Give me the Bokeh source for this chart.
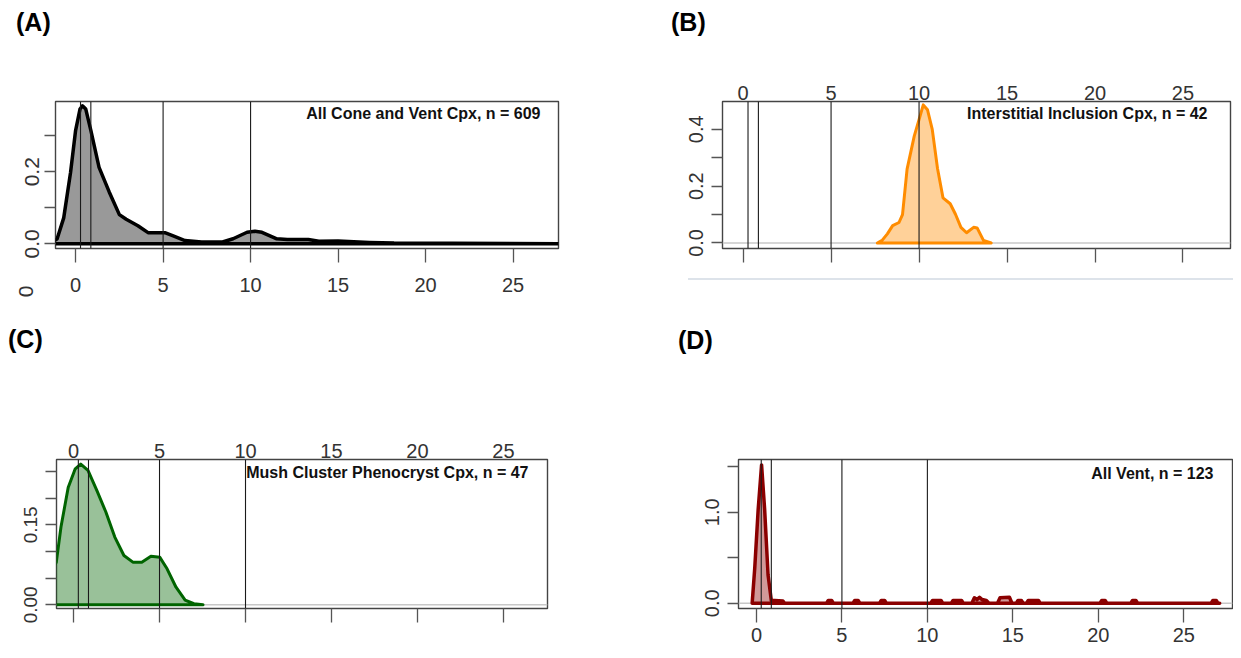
import math
from bokeh.plotting import figure
from bokeh.models import Range1d, LinearAxis, FixedTicker, Span, Label, Div
from bokeh.layouts import row, column
from bokeh.embed import file_html
from bokeh.resources import INLINE

# ---------------- data ----------------
x_ticks = [0, 5, 10, 15, 20, 25]
ref_lines = [0.28, 0.87, 5, 10]

# (A) All Cone and Vent Cpx
a_title = "All Cone and Vent Cpx, n = 609"
a_x = [-1.6, -1.06, -0.68, -0.29, 0.0, 0.25, 0.39, 0.58, 0.87, 1.34, 1.92, 2.5, 2.89,
       3.56, 4.14, 5.1, 5.58, 6.25, 7.2, 8.4, 9.0, 9.8, 10.25, 10.65, 11.5, 12.1, 13.3,
       13.9, 15.0, 16.8, 18.2, 30.0]
a_y = [0.0, 0.0135, 0.072, 0.198, 0.315, 0.374, 0.383, 0.374, 0.315, 0.212, 0.144,
       0.081, 0.068, 0.050, 0.031, 0.031, 0.022, 0.009, 0.005, 0.005, 0.014, 0.032,
       0.035, 0.032, 0.014, 0.012, 0.012, 0.007, 0.008, 0.004, 0.002, 0.0]
a_yticks = [0, 0.1, 0.2, 0.3]
a_ylabels = ["0.0", "", "0.2", ""]

# (B) Interstitial Inclusion Cpx
b_title = "Interstitial Inclusion Cpx, n = 42"
b_x = [7.63, 7.9, 8.2, 8.5, 8.86, 9.06, 9.32, 9.73, 10.0, 10.24, 10.48, 10.75, 11.05,
       11.36, 11.77, 12.07, 12.38, 12.7, 13.1, 13.3, 13.66, 14.1]
b_y = [0.0, 0.009, 0.032, 0.061, 0.072, 0.10, 0.26, 0.377, 0.434, 0.486, 0.469, 0.40,
       0.262, 0.159, 0.138, 0.101, 0.055, 0.036, 0.055, 0.053, 0.009, 0.0]
b_yticks = [0, 0.1, 0.2, 0.3, 0.4]
b_ylabels = ["0.0", "", "0.2", "", "0.4"]

# (C) Mush Cluster Phenocryst Cpx
c_title = "Mush Cluster Phenocryst Cpx, n = 47"
c_x = [-2.4, -1.0, -0.73, -0.31, 0.1, 0.42, 0.84, 1.36, 1.88, 2.4, 2.93, 3.45, 3.97,
       4.5, 5.02, 5.44, 5.96, 6.49, 7.0, 7.53]
c_y = [0.0, 0.08, 0.146, 0.22, 0.255, 0.264, 0.252, 0.214, 0.174, 0.127, 0.0925, 0.08,
       0.08, 0.091, 0.089, 0.0675, 0.033, 0.009, 0.002, 0.0]
c_yticks = [0, 0.05, 0.10, 0.15, 0.20, 0.25]
c_ylabels = ["0.00", "", "", "0.15", "", ""]

# (D) All Vent
d_title = "All Vent, n = 123"
d_x = [-0.25, -0.1, 0.1, 0.3, 0.48, 0.68, 0.87, 1.07, 1.55, 1.65,
       4.1, 4.2, 4.4, 4.5,
       5.65, 5.75, 5.95, 6.05,
       7.2, 7.3, 7.5, 7.6,
       10.2, 10.3, 10.8, 10.9,
       11.4, 11.5, 12.0, 12.1,
       12.6, 12.75, 12.9, 13.05, 13.2, 13.45, 13.6,
       14.1, 14.25, 14.8, 14.95,
       15.2, 15.3, 15.5, 15.6,
       15.8, 15.9, 16.5, 16.6,
       20.1, 20.2, 20.4, 20.5,
       21.9, 22.0, 22.2, 22.3,
       26.6, 26.7, 26.9, 27.0, 27.1]
d_y = [0.0, 0.385, 1.03, 1.52, 1.03, 0.31, 0.03, 0.03, 0.025, 0.0,
       0.0, 0.03, 0.03, 0.0,
       0.0, 0.03, 0.03, 0.0,
       0.0, 0.03, 0.03, 0.0,
       0.0, 0.03, 0.03, 0.0,
       0.0, 0.03, 0.03, 0.0,
       0.0, 0.06, 0.04, 0.065, 0.04, 0.03, 0.0,
       0.0, 0.06, 0.065, 0.0,
       0.0, 0.03, 0.03, 0.0,
       0.0, 0.03, 0.03, 0.0,
       0.0, 0.03, 0.03, 0.0,
       0.0, 0.03, 0.03, 0.0,
       0.0, 0.03, 0.03, 0.0, 0.0]
d_yticks = [0, 0.5, 1.0, 1.5]
d_ylabels = ["0.0", "", "1.0", ""]

# ---------------- style ----------------
SANS = "'Liberation Sans', Arial, sans-serif"
TICK_COL = "#555555"
LAB_COL = "#333333"


def style_axis(ax, ticks, labels=None, tick_out=14, standoff=10, size="20px",
               show_labels=True, show_ticks=True, vertical=False):
    ax.ticker = FixedTicker(ticks=ticks)
    ax.axis_line_color = None
    ax.minor_tick_line_color = None
    ax.major_tick_in = 0
    ax.major_tick_out = tick_out if show_ticks else 0
    ax.major_tick_line_color = TICK_COL if show_ticks else None
    ax.major_tick_line_width = 1.3
    ax.major_label_standoff = standoff
    ax.major_label_text_font = SANS
    ax.major_label_text_font_size = size
    ax.major_label_text_color = LAB_COL if show_labels else None
    if labels is not None:
        ax.major_label_overrides = {t: l for t, l in zip(ticks, labels)}
    if vertical:
        ax.major_label_orientation = "vertical"


def panel(w, h, bl, br, bt, bb, xr, yr, xs, ys, color, title, title_pos,
          yticks, ylabels, top_labels, bottom_labels, ysize, ystand, xstand,
          line_w=3.0):
    p = figure(width=w, height=h, x_range=Range1d(*xr), y_range=Range1d(*yr),
               output_backend="svg", toolbar_location=None,
               min_border_left=bl, min_border_right=br, min_border_top=bt,
               min_border_bottom=bb, x_axis_location=None, y_axis_location=None)
    p.grid.visible = False
    p.outline_line_color = "#444444"
    p.outline_line_width = 1.4
    p.background_fill_color = "white"
    p.border_fill_color = "white"

    yax = LinearAxis()
    style_axis(yax, yticks, ylabels, tick_out=11, standoff=ystand, size=ysize,
               vertical=True)
    p.add_layout(yax, "left")

    bottom = LinearAxis()
    style_axis(bottom, x_ticks, None, tick_out=14, standoff=xstand,
               show_labels=bottom_labels)
    p.add_layout(bottom, "below")
    if top_labels:
        top = LinearAxis()
        style_axis(top, x_ticks, None, tick_out=0, standoff=2, show_ticks=False)
        p.add_layout(top, "above")

    p.add_layout(Span(location=0, dimension="width", line_color="#c8c8c8",
                      line_width=1.5, level="underlay"))
    p.patch(xs, ys, fill_color=color, fill_alpha=0.4, line_color=color,
            line_width=line_w, line_join="round")
    for v in ref_lines:
        p.add_layout(Span(location=v, dimension="height", line_color="#1a1a1a",
                          line_width=1.1))

    p.add_layout(Label(x=title_pos[0], y=title_pos[1], x_units="screen",
                       y_units="screen", text=title, text_align="right",
                       text_baseline="middle", text_font=SANS,
                       text_font_style="bold", text_font_size="16px",
                       text_color="#111111"))
    return p


def letter_div(letter, w, h, left, top, extra=""):
    html = ('<div style="position:relative;width:%dpx;height:%dpx;overflow:visible;">'
            '<div style="position:absolute;left:%dpx;top:%dpx;font-family:%s;'
            'font-weight:bold;font-size:25px;line-height:1;color:#000;">%s</div>%s</div>'
            % (w, h, left, top, SANS.replace("'", "&quot;"), letter, extra))
    return Div(text=html, width=w, height=h, margin=0,
               styles={"overflow": "visible", "z-index": "5"})


stray_zero = ('<div style="position:absolute;left:20px;top:281px;font-family:Liberation Sans,'
              'Arial,sans-serif;font-size:21px;line-height:1;color:#333;'
              'transform:rotate(-90deg);z-index:10;">0</div>')
gray_rule = ('<div style="position:absolute;left:38px;top:278px;width:545px;height:2px;'
             'background:#dde3ea;z-index:10;"></div>')

divA = letter_div("(A)", 650, 45, 16, 10, stray_zero)
divB = letter_div("(B)", 583, 45, 21, 10, gray_rule)
divC = letter_div("(C)", 650, 40, 8, 5)
divD = letter_div("(D)", 583, 40, 28, 6)

pA = panel(650, 277, 55, 92, 53, 74, (-1.15, 27.6), (-0.013, 0.395), a_x, a_y,
           "#000000", a_title, (485, 135), a_yticks, a_ylabels,
           False, True, "21px", 5, 15, line_w=3.5)

pB = panel(583, 277, 72, 3, 56, 70, (-1.17, 27.7), (-0.0195, 0.498), b_x, b_y,
           "#ff8c00", b_title, (485, 135), b_yticks, b_ylabels,
           True, False, "20px", 8, 15)

pC = panel(650, 288, 56, 103, 97, 39, (-0.99, 27.56), (-0.0069, 0.2725), c_x, c_y,
           "#006400", c_title, (472, 136), c_yticks, c_ylabels,
           True, False, "19px", 8, 15)

pD = panel(583, 288, 88, 1, 94, 42, (-1.05, 27.85), (-0.058, 1.58), d_x, d_y,
           "#8b0000", d_title, (475, 135), d_yticks, d_ylabels,
           False, True, "20px", 8, 5, line_w=3.5)

layout = column(row(divA, divB), row(pA, pB), row(divC, divD), row(pC, pD))
open("out.html", "w").write(file_html(layout, INLINE))
